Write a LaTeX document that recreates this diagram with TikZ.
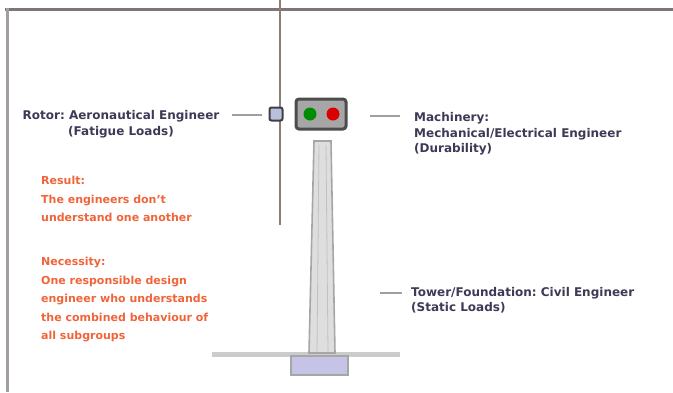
\documentclass[tikz,border=0pt]{standalone}
\usepackage{fontspec}
\setmainfont{DejaVu Sans}
\usepackage{xcolor}

\definecolor{framegray}{HTML}{7D7473}
\definecolor{labelink}{HTML}{3C3A55}
\definecolor{noteorange}{HTML}{F0643A}
\definecolor{bladegray}{HTML}{8A7E78}
\definecolor{towerfill}{HTML}{DEDEDE}
\definecolor{toweredge}{HTML}{A6A6A6}
\definecolor{footfill}{HTML}{C6C4E6}
\definecolor{hubfill}{HTML}{B8C0DD}

\tikzset{
  part label/.style={font=\bfseries\fontsize{12}{15.5}\selectfont, text=labelink, inner sep=0pt},
  note/.style={font=\bfseries\fontsize{11}{18.5}\selectfont, text=noteorange, align=left, inner sep=0pt, anchor=north west},
  lead/.style={draw=gray!75, line width=2.5pt}
}

\begin{document}
\frenchspacing
\begin{tikzpicture}[x=1pt,y=-1pt]

    \useasboundingbox (0,0) rectangle (673,392);

    % marco
    \draw[framegray, line width=3pt] (5,9) -- (673,9);
    \draw[framegray!70, line width=3pt] (7,8) -- (7,392);

    % suelo
    \fill[gray!40] (212,352) rectangle (400,357);

    % torre
    \filldraw[fill=towerfill, draw=toweredge, line width=1.6pt]
        (314,141) -- (331,141) -- (335,353) -- (309,353) -- cycle;
    \draw[toweredge!70, line width=0.8pt] (319,145) -- (317,352);
    \draw[toweredge!70, line width=0.8pt] (326,145) -- (328,352);

    % cimentacion
    \filldraw[fill=footfill, draw=gray!70, line width=1.5pt] (291,356) rectangle (348,375);

    % pala del rotor
    \draw[bladegray, line width=2.5pt] (280,0) -- (280,225);

    % buje
    \node[draw=black!75, fill=hubfill, line width=2pt, rounded corners=2pt,
          minimum width=13pt, minimum height=13pt, inner sep=0pt] (hub) at (276,114) {};

    % gondola
    \node[draw=black!70, fill=gray!70, line width=3pt, rounded corners=3pt,
          minimum width=50pt, minimum height=30pt, inner sep=0pt] (nacelle) at (321,114) {};
    \fill[green!55!black] (310,114) circle (6.5pt);
    \fill[red!85!black] (333,114) circle (6.5pt);

    % etiquetas
    \node[part label, align=center] (rotor) at (121,124)
        {Rotor: Aeronautical Engineer\\(Fatigue Loads)};
    \node[part label, align=left, anchor=west] (machinery) at (414,134)
        {Machinery:\\Mechanical/Electrical Engineer\\(Durability)};
    \node[part label, align=left, anchor=north west] (tower) at (411,287)
        {Tower/Foundation: Civil Engineer\\(Static Loads)};

    % guiones
    \coordinate (rotor lead) at (232,115);
    \coordinate (hub lead) at (262,115);
    \coordinate (nacelle lead) at (370,116);
    \coordinate (machinery lead) at (400,116);
    \coordinate (tower start) at (380,293);
    \coordinate (tower lead) at (402,293);
    \draw[lead] (rotor lead) -- (hub lead);
    \draw[lead] (nacelle lead) -- (machinery lead);
    \draw[lead] (tower start) -- (tower lead);

    % notas
    \node[note] (result) at (41,176)
        {Result:\\The engineers don't\\understand one another};
    \node[note] (necessity) at (41,257)
        {Necessity:\\One responsible design\\engineer who understands\\the combined behaviour of\\all subgroups};

\end{tikzpicture}
\end{document}
